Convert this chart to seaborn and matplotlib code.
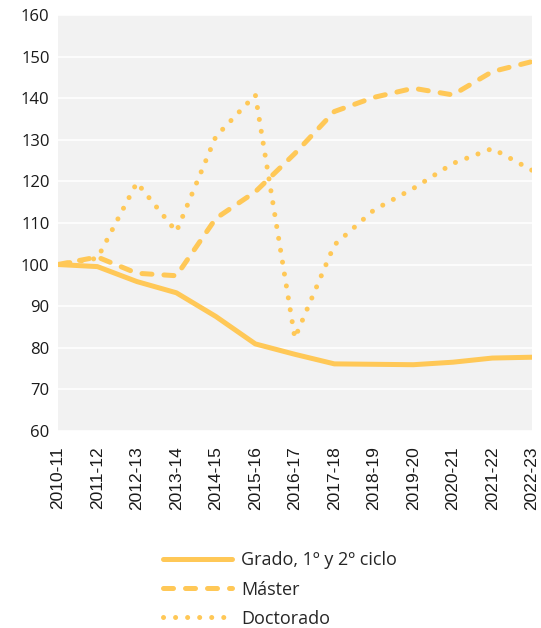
import pandas as pd
import seaborn as sns
import matplotlib.pyplot as plt

# Academic years and index values (2010-11 = 100)
years = ['2010-11', '2011-12', '2012-13', '2013-14', '2014-15', '2015-16', '2016-17',
         '2017-18', '2018-19', '2019-20', '2020-21', '2021-22', '2022-23']
grado = [100, 99.5, 95.9, 93.2, 87.5, 80.9, 78.4, 76.1, 76.0, 75.9, 76.5, 77.5, 77.7]
master = [100, 101.8, 97.9, 97.3, 111.1, 117.5, 126.7, 136.8, 140.2, 142.4, 140.8, 146.4, 148.8]
doctorado = [100, 101.5, 119.7, 107.9, 130.8, 140.8, 82.3, 104.7, 113.1, 118.3, 124.3, 127.9, 122.7]
series_names = ['Grado, 1º y 2º ciclo', 'Máster', 'Doctorado']

df = pd.DataFrame({'Curso': years * 3,
                   'Valor': grado + master + doctorado,
                   'Serie': [n for n in series_names for _ in years]})

sns.set_style('white')
plt.rcParams['font.family'] = ['Open Sans', 'DejaVu Sans']

color = '#FFC857'
fig = plt.figure(figsize=(5.41, 6.28), dpi=100)
ax = fig.add_axes([0.107, 0.314, 0.876, 0.662])
ax.set_facecolor('#F2F2F2')

styles = {'Grado, 1º y 2º ciclo': '-',
          'Máster': (0, (2.0, 2.4)),
          'Doctorado': (0, (0.01, 2.4))}

for name in series_names:
    sub = df[df['Serie'] == name]
    sns.lineplot(data=sub, x='Curso', y='Valor', ax=ax, color=color, linewidth=3.6,
                 linestyle=styles[name], label=name, sort=False,
                 dash_capstyle='round', solid_capstyle='round')

ax.set_ylim(60, 160)
ax.set_yticks(range(60, 161, 10))
ax.set_xlim(0, len(years) - 1)
ax.grid(axis='y', color='white', linewidth=1.2)
ax.set_axisbelow(True)
for s in ax.spines.values():
    s.set_visible(False)
ax.set_xlabel('')
ax.set_ylabel('')
ax.tick_params(axis='both', length=0, labelsize=12, colors='#1a1a1a')
ax.tick_params(axis='y', pad=6)
ax.tick_params(axis='x', pad=11)
for lbl in ax.get_xticklabels():
    lbl.set_rotation(90)
    lbl.set_family(['Liberation Sans', 'DejaVu Sans'])
    lbl.set_fontsize(12.5)

handles, labels = ax.get_legend_handles_labels()
ax.get_legend().remove()
fig.legend(handles, labels, loc='upper center', bbox_to_anchor=(0.518, 0.148),
           frameon=False, fontsize=13, handlelength=3.8, labelspacing=0.62,
           handletextpad=0.5)

fig.savefig('out.png', dpi=100)
